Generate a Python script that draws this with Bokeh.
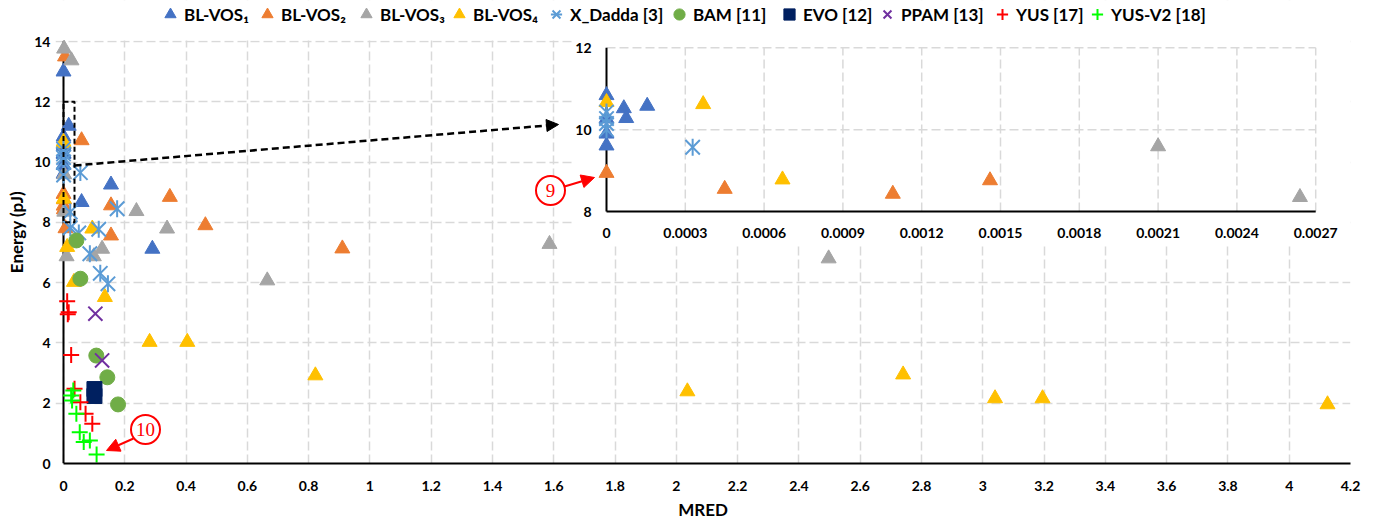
import numpy as np
from bokeh.plotting import figure
from bokeh.models import Range1d, FixedTicker, Legend, LegendItem, BoxAnnotation, Arrow, NormalHead
from bokeh.core.properties import value
from bokeh.embed import file_html
from bokeh.resources import INLINE

# ---------------- data (MRED, Energy pJ) ----------------
blvos1_mred = [0, 0.017, 0, 0, 0, 0, 0.000066, 0.000075, 0.000155, 0.155, 0.059, 0.29]
blvos1_energy = [13.0, 11.2, 10.84, 10.27, 9.9, 9.61, 10.52, 10.28, 10.58, 9.25, 8.67, 7.12]

blvos2_mred = [0.005, 0.059, 0, 0.00045, 0.00109, 0.00146, 0.155, 0.0065, 0.155, 0.347, 0.463, 0.91]
blvos2_energy = [13.5, 10.72, 8.94, 8.55, 8.43, 8.76, 8.56, 7.8, 7.56, 8.84, 7.9, 7.13]

blvos3_mred = [0.002, 0.026, 0.0021, 0.00264, 0.238, 0.338, 0.126, 0.099, 0.01, 0.665, 1.586, 2.497]
blvos3_energy = [13.76, 13.37, 9.59, 8.35, 8.37, 7.79, 7.12, 6.87, 6.87, 6.07, 7.28, 6.8]

blvos4_mred = [0, 0.000368, 0.00067, 0.094, 0.012, 0.034, 0.135, 0.281, 0.404, 0.822, 2.036, 2.74, 3.04, 3.195, 4.125]
blvos4_energy = [10.67, 10.62, 8.78, 7.79, 7.18, 6.02, 5.52, 4.03, 4.03, 2.92, 2.39, 2.95, 2.16, 2.16, 1.96]

xdadda_mred = [0, 0, 0, 0, 0.000328, 0.055, 0.175, 0.022, 0.022, 0.05, 0.115, 0.086, 0.12, 0.145]
xdadda_energy = [10.43, 10.27, 10.15, 10.0, 9.57, 9.65, 8.45, 8.34, 7.82, 7.65, 7.77, 6.96, 6.31, 5.96]

bam_mred = [0.055, 0.042, 0.107, 0.143, 0.178]
bam_energy = [6.13, 7.4, 3.58, 2.86, 1.96]

evo_mred = [0.101, 0.101]
evo_energy = [2.47, 2.24]

ppam_mred = [0.104, 0.126]
ppam_energy = [4.97, 3.42]

yus_mred = [0.012, 0.017, 0.014, 0.025, 0.036, 0.055, 0.072, 0.094]
yus_energy = [5.38, 5.02, 4.95, 3.6, 2.48, 2.03, 1.65, 1.32]

yusv2_mred = [0.032, 0.025, 0.028, 0.042, 0.053, 0.066, 0.086, 0.108]
yusv2_energy = [2.42, 2.26, 2.09, 1.65, 1.04, 0.71, 0.76, 0.3]

series_labels = ["BL-VOS\u2081", "BL-VOS\u2082", "BL-VOS\u2083", "BL-VOS\u2084", "X_Dadda [3]",
                 "BAM [11]", "EVO [12]", "PPAM [13]", "YUS [17]", "YUS-V2 [18]"]

x_ticks = [0, 0.2, 0.4, 0.6, 0.8, 1, 1.2, 1.4, 1.6, 1.8, 2, 2.2, 2.4, 2.6, 2.8, 3, 3.2, 3.4, 3.6, 3.8, 4, 4.2]
x_tick_labels = ["0", "0.2", "0.4", "0.6", "0.8", "1", "1.2", "1.4", "1.6", "1.8", "2", "2.2", "2.4",
                 "2.6", "2.8", "3", "3.2", "3.4", "3.6", "3.8", "4", "4.2"]
y_ticks = [0, 2, 4, 6, 8, 10, 12, 14]
y_tick_labels = ["0", "2", "4", "6", "8", "10", "12", "14"]

inset_x_ticks = [0, 0.0003, 0.0006, 0.0009, 0.0012, 0.0015, 0.0018, 0.0021, 0.0024, 0.0027]
inset_x_tick_labels = ["0", "0.0003", "0.0006", "0.0009", "0.0012", "0.0015", "0.0018", "0.0021", "0.0024", "0.0027"]
inset_y_ticks = [8, 10, 12]
inset_y_tick_labels = ["8", "10", "12"]

# ---------------- layout (page pixels; bokeh page has no body margin) ----------------
CANVAS_W, CANVAS_H = 1382, 521
FRAME_L, FRAME_R, FRAME_T, FRAME_B = 55, 1350, 0, 463
MAIN_X0_PX, MAIN_X1_PX = 63, 1350      # x = 0 and x = 4.2
MAIN_Y0_PX, MAIN_Y1_PX = 463, 41       # y = 0 and y = 14
INSET_X0_PX, INSET_X1_PX = 606, 1315.2 # 0 and 0.0027
INSET_Y0_PX, INSET_Y1_PX = 211, 47.3   # 8 and 12
LEGEND_CENTER_Y = 14
LEGEND_MARKER_X = [170, 267, 366, 459, 556, 679, 789, 887, 1002, 1097]
LEGEND_BOX = 28

FONT = "Lato"
TICK_SIZE = "14px"
TITLE_SIZE = "17px"
GRID_COLOR = "#d9d9d9"
GRID_DASH = "9 4"


def lin_range(p0, v0, p1, v1, plo, phi):
    k = (v1 - v0) / (p1 - p0)
    a = v0 + (plo - p0) * k
    b = v0 + (phi - p0) * k
    return min(a, b), max(a, b)


def mx(px):
    return x_ticks[0] + (px - MAIN_X0_PX) * (x_ticks[-1] - x_ticks[0]) / (MAIN_X1_PX - MAIN_X0_PX)


def my(py):
    return y_ticks[0] + (py - MAIN_Y0_PX) * (y_ticks[-1] - y_ticks[0]) / (MAIN_Y1_PX - MAIN_Y0_PX)


xr = lin_range(MAIN_X0_PX, x_ticks[0], MAIN_X1_PX, x_ticks[-1], FRAME_L, FRAME_R)
yr = lin_range(MAIN_Y0_PX, y_ticks[0], MAIN_Y1_PX, y_ticks[-1], FRAME_B, FRAME_T)
ixr = lin_range(INSET_X0_PX, inset_x_ticks[0], INSET_X1_PX, inset_x_ticks[-1], FRAME_L, FRAME_R)
iyr = lin_range(INSET_Y0_PX, inset_y_ticks[0], INSET_Y1_PX, inset_y_ticks[-1], FRAME_B, FRAME_T)

p = figure(frame_width=FRAME_R - FRAME_L, frame_height=FRAME_B - FRAME_T,
           x_range=Range1d(*xr), y_range=Range1d(*yr),
           output_backend="svg", toolbar_location=None,
           min_border_left=FRAME_L, min_border_top=FRAME_T,
           min_border_right=CANVAS_W - FRAME_R, min_border_bottom=CANVAS_H - FRAME_B)
p.extra_x_ranges = {"ix": Range1d(*ixr)}
p.extra_y_ranges = {"iy": Range1d(*iyr)}
p.outline_line_color = None
p.background_fill_color = "white"
p.border_fill_color = "white"

# ---- axes ----
xa = p.xaxis[0]
xa.ticker = FixedTicker(ticks=x_ticks)
xa.major_label_overrides = dict(zip(x_ticks, x_tick_labels))
xa.bounds = (x_ticks[0], x_ticks[-1])
xa.axis_line_color = "black"
xa.axis_line_width = 2
xa.major_tick_line_color = None
xa.minor_tick_line_color = None
xa.major_tick_out = 0
xa.major_label_standoff = 17
xa.axis_label = "MRED"
xa.axis_label_standoff = 5

ya = p.yaxis[0]
ya.ticker = FixedTicker(ticks=y_ticks)
ya.major_label_overrides = dict(zip(y_ticks, y_tick_labels))
ya.axis_line_color = None
ya.major_tick_line_color = None
ya.minor_tick_line_color = None
ya.major_tick_out = 0
ya.major_label_standoff = 5
ya.axis_label = "Energy (pJ)"
ya.axis_label_standoff = 4

for ax in (xa, ya):
    ax.major_label_text_font = FONT
    ax.major_label_text_font_style = "bold"
    ax.major_label_text_font_size = TICK_SIZE
    ax.major_label_text_color = "black"
    ax.axis_label_text_font = FONT
    ax.axis_label_text_font_style = "bold"
    ax.axis_label_text_font_size = TITLE_SIZE
    ax.axis_label_text_color = "black"

p.xgrid.ticker = FixedTicker(ticks=x_ticks)
p.ygrid.ticker = FixedTicker(ticks=y_ticks)
for g in (p.xgrid, p.ygrid):
    g.grid_line_color = GRID_COLOR
    g.grid_line_dash = GRID_DASH
    g.grid_line_width = 1.5

# white cover above the top of the plot area
p.add_layout(BoxAnnotation(bottom=y_ticks[-1] + 0.03, fill_color="white", fill_alpha=1,
                           line_alpha=0, level="underlay"))
# inset white background
p.add_layout(BoxAnnotation(left=mx(572), bottom=my(245), fill_color="white", fill_alpha=1,
                           line_alpha=0, level="underlay"))

# main y axis line at x = 0
p.segment(x0=[x_ticks[0]], y0=[y_ticks[0]], x1=[x_ticks[0]], y1=[y_ticks[-1]], line_color="black", line_width=2)

# ---- inset grid, axes, labels ----
IR = dict(x_range_name="ix", y_range_name="iy")
ivx = inset_x_ticks[1:]
p.segment(x0=ivx, y0=[inset_y_ticks[0]] * len(ivx), x1=ivx, y1=[inset_y_ticks[-1]] * len(ivx),
          line_color=GRID_COLOR, line_dash=GRID_DASH, line_width=1.5, **IR)
ihy = inset_y_ticks[1:]
p.segment(x0=[inset_x_ticks[0]] * len(ihy), y0=ihy, x1=[inset_x_ticks[-1]] * len(ihy), y1=ihy,
          line_color=GRID_COLOR, line_dash=GRID_DASH, line_width=1.5, **IR)
p.segment(x0=[inset_x_ticks[0], inset_x_ticks[0]], y0=[inset_y_ticks[0], inset_y_ticks[0]],
          x1=[inset_x_ticks[0], inset_x_ticks[-1]], y1=[inset_y_ticks[-1], inset_y_ticks[0]],
          line_color="black", line_width=2, **IR)
p.text(x=inset_x_ticks, y=[inset_y_ticks[0]] * len(inset_x_ticks), text=inset_x_tick_labels,
       text_align="center", text_baseline="middle", y_offset=21,
       text_font=value(FONT), text_font_style="bold", text_font_size=TICK_SIZE, text_color="black", **IR)
p.text(x=[inset_x_ticks[0]] * len(inset_y_ticks), y=inset_y_ticks, text=inset_y_tick_labels,
       text_align="right", text_baseline="middle", x_offset=-15,
       text_font=value(FONT), text_font_style="bold", text_font_size=TICK_SIZE, text_color="black", **IR)

# ---- series ----
series = [
    (blvos1_mred, blvos1_energy, "triangle", "#4472C4", 15),
    (blvos2_mred, blvos2_energy, "triangle", "#ED7D31", 15),
    (blvos3_mred, blvos3_energy, "triangle", "#A5A5A5", 15),
    (blvos4_mred, blvos4_energy, "triangle", "#FFC000", 15),
    (xdadda_mred, xdadda_energy, "star6", "#5B9BD5", 17),
    (bam_mred, bam_energy, "circle", "#70AD47", 15),
    (evo_mred, evo_energy, "square", "#002060", 15),
    (ppam_mred, ppam_energy, "x", "#7030A0", 20),
    (yus_mred, yus_energy, "cross", "#FF0000", 16),
    (yusv2_mred, yusv2_energy, "cross", "#00FF00", 16),
]


def in_inset(xs, ys):
    xs = np.asarray(xs, dtype=float)
    ys = np.asarray(ys, dtype=float)
    m = ((xs >= inset_x_ticks[0]) & (xs <= inset_x_ticks[-1]) &
         (ys >= inset_y_ticks[0]) & (ys <= inset_y_ticks[-1]))
    return list(xs[m]), list(ys[m])


def draw(xs, ys, marker, color, size, **kw):
    if marker == "star6":
        r1 = p.scatter(x=xs, y=ys, marker="x", size=size * 1.2, line_color=color, line_width=2, **kw)
        r2 = p.scatter(x=xs, y=ys, marker="dash", angle=np.pi / 2, size=size, line_color=color,
                       line_width=2, **kw)
        return [r1, r2]
    if marker in ("x", "cross"):
        return [p.scatter(x=xs, y=ys, marker=marker, size=size, line_color=color, line_width=2, **kw)]
    return [p.scatter(x=xs, y=ys, marker=marker, size=size, fill_color=color, line_color=color, **kw)]


legend_items = []
for (xs, ys, mk, col, sz), lab in zip(series, series_labels):
    rs = draw(xs, ys, mk, col, sz)
    legend_items.append(LegendItem(label=lab, renderers=rs))
    ixs, iys = in_inset(xs, ys)
    if ixs:
        draw(ixs, iys, mk, col, sz, **IR)

# ---- annotations ----
# dashed zoom box
p.quad(left=[x_ticks[0]], right=[mx(74)], bottom=[inset_y_ticks[0]], top=[inset_y_ticks[-1]],
       fill_alpha=0, line_color="black", line_dash="5 3", line_width=2)
p.add_layout(Arrow(end=NormalHead(size=12, fill_color="black", line_color="black"),
                   x_start=mx(74), y_start=my(165), x_end=mx(558), y_end=my(124),
                   line_color="black", line_width=2.5, line_dash="7 4"))

# circled labels
p.add_layout(Arrow(end=NormalHead(size=13, fill_color="red", line_color="red"),
                   x_start=mx(133), y_start=my(438), x_end=mx(106), y_end=my(450),
                   line_color="red", line_width=2))
p.add_layout(Arrow(end=NormalHead(size=13, fill_color="red", line_color="red"),
                   x_start=mx(564), y_start=my(186), x_end=mx(594), y_end=my(177),
                   line_color="red", line_width=2))
p.scatter(x=[mx(145), mx(550)], y=[my(429), my(190)], marker="circle", size=29,
          fill_color="white", line_color="red", line_width=2)
p.text(x=[mx(145), mx(550)], y=[my(429), my(190)], text=["10", "9"], text_align="center",
       text_baseline="middle", text_font=value("Liberation Serif"), text_font_size="19px",
       text_color="red")

# ---- legend: one entry per legend box, placed like the reference ----
frame_h = FRAME_B - FRAME_T
for item, cx in zip(legend_items, LEGEND_MARKER_X):
    lg = Legend(items=[item], orientation="horizontal",
                location=(cx - LEGEND_BOX // 2 - FRAME_L, frame_h - (LEGEND_CENTER_Y - FRAME_T) - LEGEND_BOX // 2),
                glyph_width=LEGEND_BOX, glyph_height=LEGEND_BOX, label_standoff=0, spacing=0,
                padding=0, margin=0, background_fill_alpha=0, border_line_alpha=0,
                label_text_font=FONT, label_text_font_style="bold", label_text_font_size=TITLE_SIZE,
                label_text_color="black")
    p.add_layout(lg, "center")

open("out.html", "w").write(file_html(p, INLINE))
